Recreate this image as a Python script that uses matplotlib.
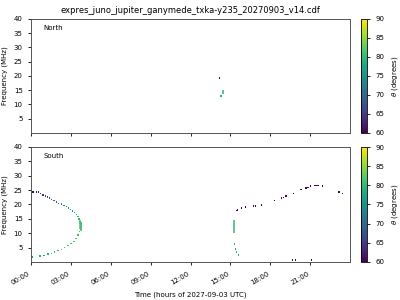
import numpy as np
import matplotlib
matplotlib.use("Agg")
import matplotlib.pyplot as plt
from matplotlib.colors import Normalize

# ---- data (time in hours, frequency in MHz, theta in degrees)

title = "expres_juno_jupiter_ganymede_txka-y235_20270903_v14.cdf"

# North hemisphere: single dots
north_t = [14.2, 14.25, 14.3]
north_f = [19.25, 13.0, 13.0]
north_th = [60, 79, 79]
# North: short vertical strokes (time, fmin, fmax, theta)
north_seg_t = [14.42]
north_seg_f0 = [13.6]
north_seg_f1 = [15.2]
north_seg_th = [79]

# South hemisphere: dots
south_t = [0.0, 0.1, 0.2, 0.43, 0.58, 0.73, 0.9, 1.07, 1.22, 1.37, 1.52, 1.72,
           1.93, 2.08, 2.28, 2.48, 2.65, 2.83, 2.98, 3.13, 3.28, 3.43, 3.53,
           3.62, 3.7,
           3.65, 3.53, 3.4, 3.23, 3.02, 2.78, 2.53, 2.28, 2.03, 1.78, 1.52,
           1.28, 0.98, 0.68, 0.08,
           15.33, 15.4, 15.48, 15.63,
           15.48, 15.55, 15.83, 16.15, 16.73, 16.88, 17.35, 18.33, 18.85,
           19.0, 19.18, 19.75, 20.3, 20.68, 20.83, 21.05, 21.38, 21.48,
           21.58, 21.93, 23.18, 23.43,
           19.68, 19.88, 21.1]
south_f = [24.4, 24.4, 24.4, 24.4, 24.4, 23.9, 23.3, 23.0, 22.6, 22.3, 21.8, 21.4,
           20.9, 20.4, 20.1, 19.6, 19.2, 18.7, 18.2, 17.7, 17.1, 16.5, 15.7,
           14.9, 13.9,
           10.5, 9.3, 8.1, 7.2, 6.5, 5.8, 5.1, 4.4, 3.9, 3.5, 3.0,
           2.7, 2.3, 2.1, 1.7,
           6.2, 4.5, 3.5, 2.4,
           17.8, 18.1, 18.7, 19.1, 19.4, 19.4, 19.8, 21.3, 22.2,
           22.5, 22.9, 23.9, 25.1, 25.7, 26.0, 26.4, 26.7, 26.7,
           26.7, 26.4, 24.4, 23.9,
           0.6, 0.6, 0.6]
south_th = [60, 60, 60, 61, 62, 63, 64, 65, 66, 67, 68, 69,
            70, 71, 72, 72, 73, 74, 75, 76, 77, 78, 79,
            80, 81,
            81, 81, 81, 81, 81, 81, 81, 81, 80, 80, 80,
            79, 79, 78, 77,
            80, 79, 79, 78,
            60, 60, 60, 60, 60, 60, 60, 60, 60,
            60, 60, 60, 60, 60, 60, 60, 60, 60,
            60, 60, 60, 60,
            60, 60, 60]
# South: vertical strokes (time, fmin, fmax, theta)
south_seg_t = [3.68, 3.73, 3.78, 15.25]
south_seg_f0 = [11.5, 10.8, 11.1, 10.2]
south_seg_f1 = [14.5, 14.0, 13.9, 14.6]
south_seg_th = [81, 81, 81, 80]

hour_ticks = [0, 3, 6, 9, 12, 15, 18, 21]
freq_ticks = [5, 10, 15, 20, 25, 30, 35, 40]
cbar_ticks = [60, 65, 70, 75, 80, 85, 90]

# ---- plotting

cmap = plt.get_cmap("viridis")
norm = Normalize(vmin=60, vmax=90)

fig = plt.figure(figsize=(4, 3), dpi=100)
ax_n = fig.add_axes([0.0775, 0.557, 0.7975, 0.38])
ax_s = fig.add_axes([0.0775, 0.127, 0.7975, 0.383])
cax_n = fig.add_axes([0.9025, 0.557, 0.016, 0.38])
cax_s = fig.add_axes([0.9025, 0.127, 0.016, 0.383])

panels = [
    (ax_n, cax_n, "North", north_t, north_f, north_th,
     north_seg_t, north_seg_f0, north_seg_f1, north_seg_th),
    (ax_s, cax_s, "South", south_t, south_f, south_th,
     south_seg_t, south_seg_f0, south_seg_f1, south_seg_th),
]

for ax, cax, name, t, f, th, st, sf0, sf1, sth in panels:
    sc = ax.scatter(t, f, c=th, cmap=cmap, norm=norm, marker="s", s=1.0,
                    linewidths=0)
    ax.vlines(st, sf0, sf1, colors=cmap(norm(np.array(sth))), linewidth=1.1)
    ax.set_xlim(0, 24)
    ax.set_ylim(0, 40)
    ax.set_yticks(freq_ticks)
    ax.set_xticks(hour_ticks)
    ax.set_ylabel("Frequency (MHz)", fontsize=5)
    ax.tick_params(labelsize=5, length=2.5, width=0.6)
    for sp in ax.spines.values():
        sp.set_linewidth(0.7)
        sp.set_color("#555555")
    ax.text(0.04, 0.9, name, transform=ax.transAxes, fontsize=5)

    cb = fig.colorbar(sc, cax=cax, ticks=cbar_ticks)
    cb.set_label(r"$\theta$ (degrees)", fontsize=5)
    cb.ax.tick_params(labelsize=5, length=2.5, width=0.6)
    cb.outline.set_linewidth(0.6)

ax_n.set_xticklabels([])
ax_s.set_xticklabels(["%02d:00" % h for h in hour_ticks], rotation=30,
                     ha="right")
ax_s.set_xlabel("Time (hours of 2027-09-03 UTC)", fontsize=5)
ax_n.set_title(title, fontsize=6, pad=4)

fig.savefig("out.png", dpi=100)
